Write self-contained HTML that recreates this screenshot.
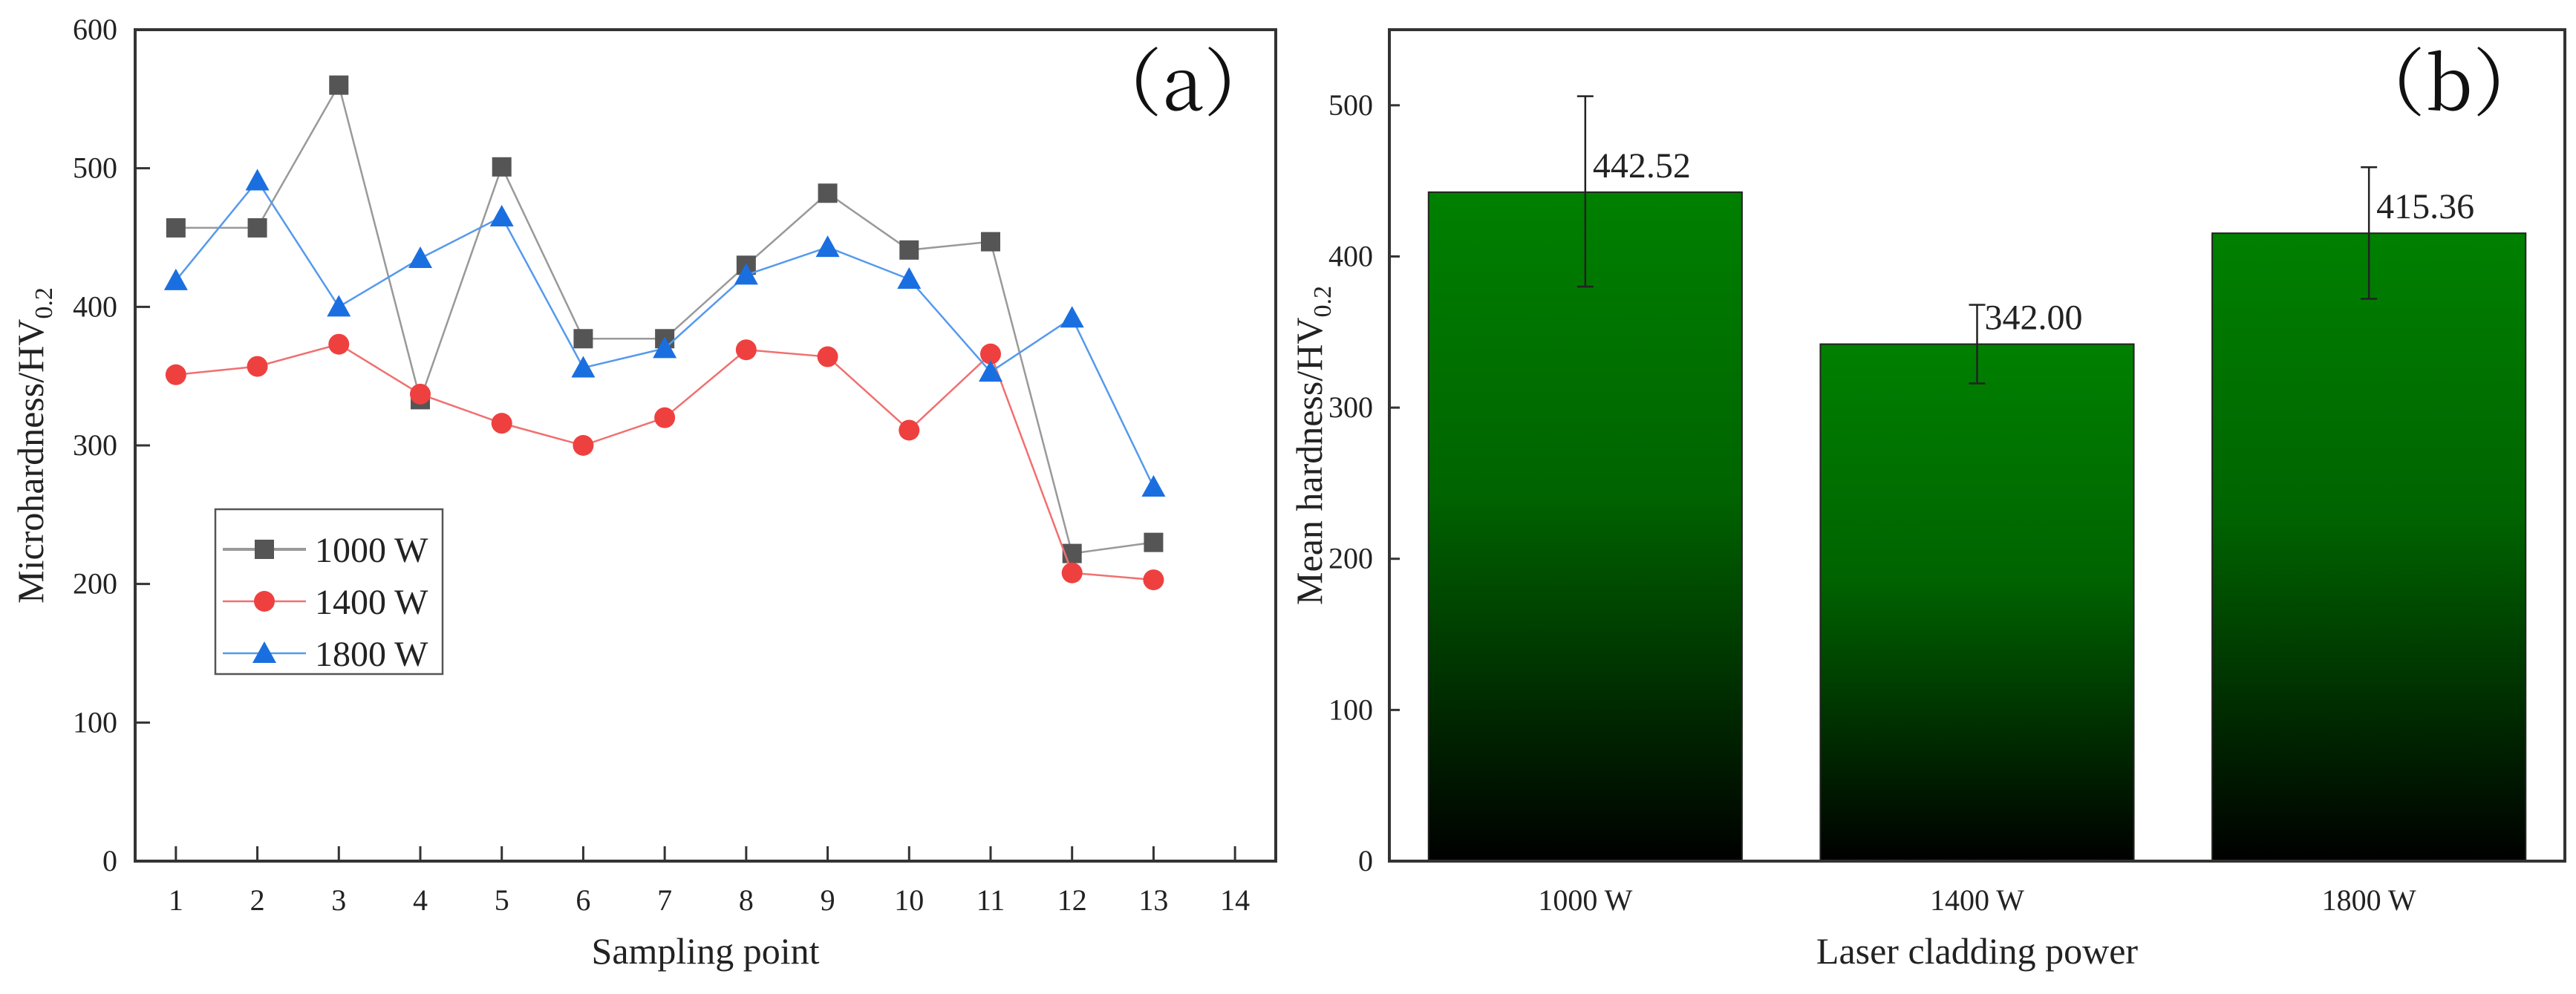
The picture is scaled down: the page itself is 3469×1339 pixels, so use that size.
<!DOCTYPE html>
<html><head><meta charset="utf-8"><style>
html,body{margin:0;padding:0;background:#fff;}
svg{display:block;font-family:"Liberation Serif",serif;}
</style></head><body>
<svg id="chart" width="3469" height="1339" viewBox="0 0 3469 1339" xmlns="http://www.w3.org/2000/svg">
<defs>
<linearGradient id="barGrad" x1="0" y1="0" x2="0" y2="1">
<stop offset="0" stop-color="#008000"/><stop offset="0.45" stop-color="#006400"/><stop offset="1" stop-color="#000000"/>
</linearGradient>
</defs>
<g id="pa"></g>
<g id="pb"></g>
</svg>
<script>
const samplingPoints=[1,2,3,4,5,6,7,8,9,10,11,12,13];
const xTicksA=[1,2,3,4,5,6,7,8,9,10,11,12,13,14];
const yTicksA=[0,100,200,300,400,500,600];
const series1000=[457,457,560,333,501,377,377,430,482,441,447,222,230];
const series1400=[351,357,373,337,316,300,320,369,364,311,366,208,203];
const series1800=[419,491,400,435,465,356,370,423,443,420,353,392,270];
const seriesNames=["1000 W","1400 W","1800 W"];
const barCategories=["1000 W","1400 W","1800 W"];
const barMeans=[442.52,342.00,415.36];
const barLabels=["442.52","342.00","415.36"];
const errLow=[380,316,372];
const errHigh=[506,368,459];
const yTicksB=[0,100,200,300,400,500];

const NS="http://www.w3.org/2000/svg";
const CJK='"Noto Serif CJK SC","Liberation Serif",serif';
function mk(parent,tag,attrs,text){const e=document.createElementNS(NS,tag);for(const k in attrs)e.setAttribute(k,attrs[k]);if(text!==undefined)e.textContent=text;parent.appendChild(e);return e;}

// Panel A
const A={l:182,r:1718,t:40,b:1160};
const xA=v=>A.l+(v-0.5)/14*(A.r-A.l);
const yA=v=>A.b-v/600*(A.b-A.t);
const pa=document.getElementById('pa');
let fr=mk(pa,'rect',{x:A.l,y:A.t,width:A.r-A.l,height:A.b-A.t,fill:'none',stroke:'#333',"stroke-width":4});


xTicksA.forEach(v=>{
 let t=mk(pa,'line',{x1:xA(v),x2:xA(v),y1:A.b,y2:A.b-20,stroke:'#333',"stroke-width":3});
 
 
 let l=mk(pa,'text',{x:xA(v),y:A.b+66,"font-size":40,"text-anchor":"middle",fill:'#222'},String(v));
 
 
});
yTicksA.forEach(v=>{
 let t=mk(pa,'line',{x1:A.l,x2:A.l+20,y1:yA(v),y2:yA(v),stroke:'#333',"stroke-width":3});
 
 
 let l=mk(pa,'text',{x:A.l-24,y:yA(v)+13,"font-size":40,"text-anchor":"end",fill:'#222'},String(v));
 
 
});
let xt=mk(pa,'text',{x:(A.l+A.r)/2,y:1298,"font-size":50,"text-anchor":"middle",fill:'#222'},"Sampling point");


let yt=mk(pa,'text',{transform:`translate(58,${(A.t+A.b)/2}) rotate(-90)`,"font-size":50,"text-anchor":"middle",fill:'#222'});


yt.innerHTML='Microhardness/HV<tspan font-size="34" dy="12">0.2</tspan>';
let pl=mk(pa,'text',{x:1593,y:148,"font-size":100,"text-anchor":"middle",fill:'#111',"font-family":CJK},"（a）");



const colors=['#555555','#ef4040','#1a6fe0'];
const lineCols=['#999999','#f07070','#5599ee'];
const allSeries=[series1000,series1400,series1800];
function marker(g,type,x,y,c){
 if(type===0)return mk(g,'rect',{x:x-13,y:y-13,width:26,height:26,fill:c});
 if(type===1)return mk(g,'circle',{cx:x,cy:y,r:14,fill:c});
 return mk(g,'polygon',{points:`${x},${y-16} ${x-16},${y+13} ${x+16},${y+13}`,fill:c});
}
allSeries.forEach((ser,si)=>{
 const g=mk(pa,'g',{});
 
 
 const pts=ser.map((v,i)=>xA(samplingPoints[i])+','+yA(v)).join(' ');
 const ln=mk(g,'polyline',{points:pts,fill:'none',stroke:lineCols[si],"stroke-width":2.5});
 
 
 ser.forEach((v,i)=>{
  const m=marker(g,si,xA(samplingPoints[i]),yA(v),colors[si]);
  
  
 });
});
// legend
const lg=mk(pa,'g',{});


mk(lg,'rect',{x:290,y:686,width:306,height:222,fill:'#fff',stroke:'#555',"stroke-width":2.5});
seriesNames.forEach((n,i)=>{
 const y=740+i*70;
 const e=mk(lg,'g',{});
 
 
 mk(e,'line',{x1:300,x2:412,y1:y,y2:y,stroke:lineCols[i],"stroke-width":i===0?4:2.5});
 marker(e,i,356,y,colors[i]);
 mk(e,'text',{x:424,y:y+17,"font-size":48,fill:'#222'},n);
});

// Panel B
const B={l:1871,r:3454,t:40,b:1160};
const xB=i=>B.l+(i+0.5)/3*(B.r-B.l);
const yB=v=>B.b-v/550*(B.b-B.t);
const bw=0.8/3*(B.r-B.l);
const pb=document.getElementById('pb');
barMeans.forEach((v,i)=>{
 const r=mk(pb,'rect',{x:xB(i)-bw/2,y:yB(v),width:bw,height:B.b-yB(v),fill:'url(#barGrad)',stroke:'#222',"stroke-width":2});
 
 
 const eg=mk(pb,'g',{stroke:'#222',"stroke-width":2.5});
 
 
 mk(eg,'line',{x1:xB(i),x2:xB(i),y1:yB(errLow[i]),y2:yB(errHigh[i])});
 mk(eg,'line',{x1:xB(i)-11,x2:xB(i)+11,y1:yB(errLow[i]),y2:yB(errLow[i])});
 mk(eg,'line',{x1:xB(i)-11,x2:xB(i)+11,y1:yB(errHigh[i]),y2:yB(errHigh[i])});
 const t=mk(pb,'text',{x:xB(i)+10,y:yB(v)-20,"font-size":48,fill:'#222'},barLabels[i]);
 
 
 const c=mk(pb,'text',{x:xB(i),y:B.b+66,"font-size":40,"text-anchor":"middle",fill:'#222'},barCategories[i]);
 
 
});
let frb=mk(pb,'rect',{x:B.l,y:B.t,width:B.r-B.l,height:B.b-B.t,fill:'none',stroke:'#333',"stroke-width":4});


yTicksB.forEach(v=>{
 let t=mk(pb,'line',{x1:B.l,x2:B.l+14,y1:yB(v),y2:yB(v),stroke:'#333',"stroke-width":3});
 
 
 let l=mk(pb,'text',{x:B.l-22,y:yB(v)+13,"font-size":40,"text-anchor":"end",fill:'#222'},String(v));
 
 
});
let xtb=mk(pb,'text',{x:(B.l+B.r)/2,y:1298,"font-size":50,"text-anchor":"middle",fill:'#222'},"Laser cladding power");


let ytb=mk(pb,'text',{transform:`translate(1780,${(B.t+B.b)/2}) rotate(-90)`,"font-size":50,"text-anchor":"middle",fill:'#222'});


ytb.innerHTML='Mean hardness/HV<tspan font-size="34" dy="12">0.2</tspan>';
let plb=mk(pb,'text',{x:3298,y:148,"font-size":100,"text-anchor":"middle",fill:'#111',"font-family":CJK},"（b）");


</script>
</body></html>
